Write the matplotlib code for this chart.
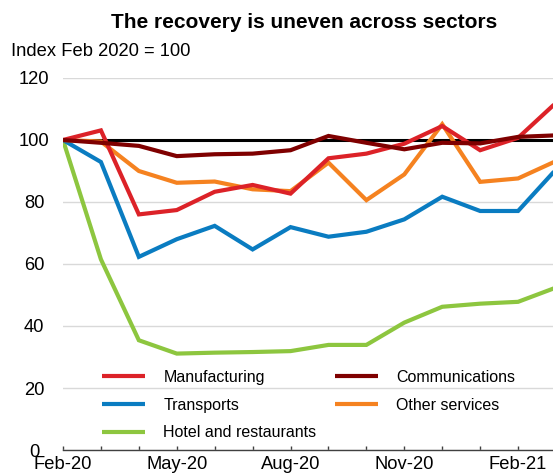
import matplotlib
matplotlib.use("Agg")
import matplotlib.pyplot as plt

plt.rcParams['font.family'] = ['Liberation Sans', 'DejaVu Sans']

months = ["Feb-20", "Mar-20", "Apr-20", "May-20", "Jun-20", "Jul-20", "Aug-20",
          "Sep-20", "Oct-20", "Nov-20", "Dec-20", "Jan-21", "Feb-21", "Mar-21"]

manufacturing = [100, 103.1, 76.0, 77.4, 83.3, 85.5, 82.7, 94.1, 95.6, 98.8, 104.5, 96.7, 100.7, 112.0]
communications = [100, 99.1, 98.1, 94.8, 95.4, 95.6, 96.7, 101.3, 99.1, 97.0, 99.1, 98.9, 101.0, 101.5]
transports = [100, 92.9, 62.3, 68.0, 72.3, 64.7, 71.9, 68.8, 70.4, 74.4, 81.7, 77.1, 77.1, 90.5]
other_services = [100, 99.5, 90.0, 86.2, 86.6, 84.1, 83.5, 92.7, 80.6, 88.9, 105.1, 86.5, 87.6, 93.2]
hotels = [100, 61.5, 35.4, 31.1, 31.4, 31.6, 31.9, 33.9, 33.9, 41.1, 46.2, 47.2, 47.8, 52.4]

baseline = 100
y_ticks = [0, 20, 40, 60, 80, 100, 120]

W, H = 553, 473
fs = 13.2
legend_fs = 11.5
fig = plt.figure(figsize=(W / 100, H / 100), dpi=100)
left, right, bottom, top = 63, 556, 450, 78
ax = fig.add_axes([left / W, (H - bottom) / H, (right - left) / W, (bottom - top) / H])

x = list(range(len(months)))
lw = 3.0

ax.axhline(baseline, color="black", lw=2.2, zorder=2)

series = [
    ("Manufacturing", manufacturing, "#DC2228"),
    ("Transports", transports, "#0A7CC1"),
    ("Hotel and restaurants", hotels, "#8DC63F"),
    ("Communications", communications, "#7F0000"),
    ("Other services", other_services, "#F58220"),
]
draw_order = {"Hotel and restaurants": 3, "Transports": 4, "Other services": 5,
              "Manufacturing": 6, "Communications": 7}
handles = []
for name, vals, col in series:
    h, = ax.plot(x, vals, color=col, lw=lw, label=name, zorder=draw_order[name],
                 solid_joinstyle="miter", solid_capstyle="butt")
    handles.append(h)

ax.set_xlim(0, len(months) - 1)
ax.set_ylim(0, 120)
ax.set_yticks(y_ticks)
ax.yaxis.grid(True, color="#D9D9D9", lw=1)
ax.set_axisbelow(True)
# y labels are centred in a column left of the plot
ax.tick_params(axis="y", length=0, pad=20.9, labelsize=fs)
for lbl in ax.get_yticklabels():
    lbl.set_horizontalalignment("center")

ax.set_xticks(x)
ax.set_xticklabels([m if i % 3 == 0 else "" for i, m in enumerate(months)])
ax.tick_params(axis="x", direction="in", length=3, width=1, color="#404040",
               pad=4.5, labelsize=fs)

for s in ["top", "right", "left"]:
    ax.spines[s].set_visible(False)
ax.spines["bottom"].set_color("#404040")
ax.spines["bottom"].set_linewidth(1)
ax.spines["bottom"].set_zorder(10)

leg = ax.legend(handles=handles, ncol=2, frameon=False, fontsize=legend_fs,
                loc="upper left", bbox_to_anchor=(102 / W, (H - 370) / H),
                bbox_transform=fig.transFigure, borderpad=0, borderaxespad=0,
                handlelength=2.7, handletextpad=1.15, columnspacing=1.15,
                labelspacing=0.79)
for lh in leg.get_lines():
    lh.set_linewidth(3)

fig.text(304 / W, 1 - 23 / H, "The recovery is uneven across sectors",
         ha="center", va="center", fontsize=15, fontweight="bold")
fig.text(11 / W, 1 - 52 / H, "Index Feb 2020 = 100", ha="left", va="center",
         fontsize=fs)

fig.savefig("out.png", dpi=100)
